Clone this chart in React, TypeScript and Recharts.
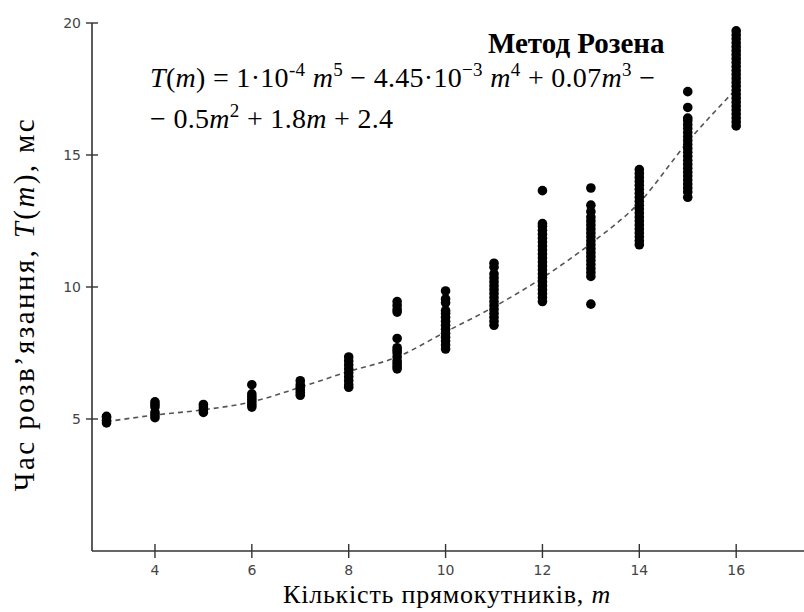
import React from 'react';
import { ComposedChart, Scatter, Line, XAxis, YAxis } from 'recharts';

const mValues = [3, 4, 5, 6, 7, 8, 9, 10, 11, 12, 13, 14, 15, 16];
const timeSamples = [
  [4.85, 4.95, 5.05, 5.1],
  [5.05, 5.15, 5.25, 5.45, 5.55, 5.65],
  [5.25, 5.35, 5.45, 5.55],
  [5.45, 5.55, 5.65, 5.75, 5.85, 5.95, 6.3],
  [5.9, 6.0, 6.1, 6.2, 6.3, 6.45],
  [6.2, 6.3, 6.45, 6.6, 6.75, 6.9, 7.05, 7.2, 7.35],
  [6.9, 7.0, 7.1, 7.2, 7.35, 7.5, 7.6, 7.7, 8.05, 9.05, 9.15, 9.3, 9.45],
  [7.65, 7.8, 7.95, 8.1, 8.25, 8.4, 8.55, 8.7, 8.85, 9.0, 9.1, 9.4, 9.55, 9.85],
  [8.55, 8.7, 8.85, 9.0, 9.15, 9.3, 9.45, 9.6, 9.75, 9.9, 10.05, 10.2, 10.35, 10.5, 10.75, 10.9],
  [9.45, 9.6, 9.75, 9.9, 10.05, 10.2, 10.35, 10.5, 10.65, 10.8, 10.95, 11.1, 11.25, 11.4, 11.55, 11.7, 11.85, 12.0, 12.15, 12.3, 12.4, 13.65],
  [9.35, 10.4, 10.55, 10.7, 10.85, 11.0, 11.15, 11.3, 11.45, 11.6, 11.75, 11.9, 12.05, 12.2, 12.35, 12.5, 12.65, 12.85, 13.1, 13.75],
  [11.6, 11.75, 11.9, 12.05, 12.2, 12.35, 12.5, 12.65, 12.8, 12.95, 13.1, 13.25, 13.4, 13.55, 13.7, 13.85, 14.0, 14.15, 14.3, 14.45],
  [13.4, 13.6, 13.75, 13.9, 14.05, 14.2, 14.35, 14.5, 14.65, 14.8, 14.95, 15.1, 15.25, 15.4, 15.55, 15.7, 15.85, 16.0, 16.15, 16.3, 16.4, 16.8, 17.4],
  [16.1, 16.25, 16.4, 16.55, 16.7, 16.85, 17.0, 17.15, 17.3, 17.45, 17.6, 17.75, 17.9, 18.05, 18.2, 18.35, 18.5, 18.65, 18.8, 18.95, 19.1, 19.25, 19.4, 19.55, 19.7],
];
const trendValues = [4.9, 5.15, 5.35, 5.65, 6.2, 6.8, 7.35, 8.3, 9.25, 10.35, 11.65, 13.2, 15.5, 17.5];
const xTicks = [4, 6, 8, 10, 12, 14, 16];
const yTicks = [5, 10, 15, 20];

const titleText = 'Метод Розена';
const xLabelText = 'Кількість прямокутників, ';
const yLabelText = 'Час розв’язання, ';

const scatterData = mValues.flatMap((m, i) => timeSamples[i].map((t) => ({ m, t })));
const trendData = mValues.map((m, i) => ({ m, t: trendValues[i] }));

const AXIS = '#333';
const TICK_FONT = 'DejaVu Sans';
const SERIF = 'Liberation Serif';

const YTick = (props: any) => {
  const { x, y, payload } = props;
  return (
    <g>
      <line x1={x - 6} x2={x + 6} y1={y} y2={y} stroke={AXIS} strokeWidth={1.4} />
      <text x={x - 11} y={y} dy="0.36em" textAnchor="end" fontFamily={TICK_FONT} fontSize={14} fill="#444">
        {payload.value}
      </text>
    </g>
  );
};

const XTick = (props: any) => {
  const { x, y, payload } = props;
  return (
    <g>
      <line x1={x} x2={x} y1={y - 7} y2={y + 7} stroke={AXIS} strokeWidth={1.4} />
      <text x={x} y={y + 24} textAnchor="middle" fontFamily={TICK_FONT} fontSize={14} fill="#444">
        {payload.value}
      </text>
    </g>
  );
};

const Dot = (props: any) => <circle cx={props.cx} cy={props.cy} r={4.8} fill="#000" />;

type Seg = { t: string; i?: boolean; s?: boolean };

const renderSegs = (segs: Seg[], base: number, supSize: number, shift: number) => {
  let cur = 0;
  return segs.map((sg, k) => {
    const target = sg.s ? -shift : 0;
    const dy = target - cur;
    cur = target;
    return (
      <tspan key={k} dy={dy} fontStyle={sg.i ? 'italic' : 'normal'} fontSize={sg.s ? supSize : base}>
        {sg.t}
      </tspan>
    );
  });
};

const line1: Seg[] = [
  { t: 'T', i: true }, { t: '(' }, { t: 'm', i: true }, { t: ') = 1·10' }, { t: '-4', s: true },
  { t: ' ' }, { t: 'm', i: true }, { t: '5', s: true }, { t: ' − 4.45·10' }, { t: '−3', s: true },
  { t: ' ' }, { t: 'm', i: true }, { t: '4', s: true }, { t: ' + 0.07' }, { t: 'm', i: true },
  { t: '3', s: true }, { t: ' −' },
];
const line2: Seg[] = [
  { t: '− 0.5' }, { t: 'm', i: true }, { t: '2', s: true }, { t: ' + 1.8' }, { t: 'm', i: true }, { t: ' + 2.4' },
];

const Overlay = () => (
  <svg width={804} height={612} style={{ position: 'absolute', left: 0, top: 0, pointerEvents: 'none' }}>
    <text x={488} y={53} fontFamily={SERIF} fontWeight="bold" fontSize={29} fill="#000">
      {titleText}
    </text>
    <text x={150} y={87} fontFamily={SERIF} fontSize={28} letterSpacing={0.3} fill="#000">
      {renderSegs(line1, 28, 19, 11)}
    </text>
    <text x={150} y={128} fontFamily={SERIF} fontSize={28} letterSpacing={0.3} fill="#000">
      {renderSegs(line2, 28, 19, 11)}
    </text>
    <text x={447} y={603} textAnchor="middle" fontFamily={SERIF} fontSize={26} letterSpacing={0.8} fill="#000">
      {xLabelText}
      <tspan fontStyle="italic">m</tspan>
    </text>
    <text
      x={34}
      y={304}
      textAnchor="middle"
      transform="rotate(-90, 34, 304)"
      fontFamily={SERIF}
      fontSize={29}
      letterSpacing={2.4}
      fill="#000"
    >
      {yLabelText}
      <tspan fontStyle="italic">T</tspan>(<tspan fontStyle="italic">m</tspan>), мс
    </text>
  </svg>
);

export default function App() {
  return (
    <div style={{ position: 'absolute', left: 0, top: 0, width: 804, height: 612, background: '#fff' }}>
      <ComposedChart width={804} height={612} margin={{ top: 23, right: 0, bottom: 31, left: 62 }}>
        <XAxis
          type="number"
          dataKey="m"
          domain={[2.7, 17.4]}
          ticks={xTicks}
          interval={0}
          height={30}
          tickSize={0}
          tickMargin={0}
          tickLine={false}
          axisLine={{ stroke: AXIS, strokeWidth: 1.6 }}
          tick={<XTick />}
          allowDataOverflow
        />
        <YAxis
          type="number"
          dataKey="t"
          domain={[0, 20]}
          ticks={yTicks}
          interval={0}
          width={30}
          tickSize={0}
          tickMargin={0}
          tickLine={false}
          axisLine={{ stroke: AXIS, strokeWidth: 1.6 }}
          tick={<YTick />}
          allowDataOverflow
        />
        <Line
          data={trendData}
          dataKey="t"
          type="monotone"
          stroke="#555"
          strokeWidth={1.6}
          strokeDasharray="5 4"
          dot={false}
          isAnimationActive={false}
        />
        <Scatter data={scatterData} dataKey="t" shape={<Dot />} isAnimationActive={false} />
      </ComposedChart>
      <Overlay />
    </div>
  );
}
